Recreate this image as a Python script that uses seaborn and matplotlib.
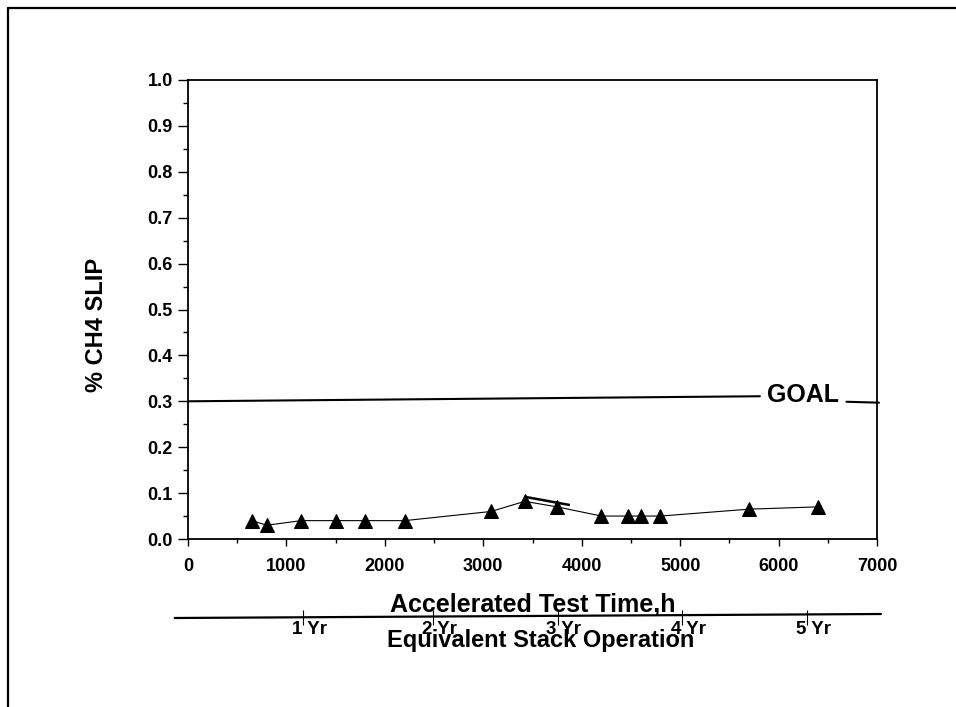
import matplotlib
matplotlib.use("Agg")
import matplotlib.pyplot as plt
from matplotlib.lines import Line2D
from matplotlib.ticker import MultipleLocator
import seaborn as sns
import pandas as pd

# ---- data ----
test_time_h = [650, 800, 1150, 1500, 1800, 2200, 3080, 3420, 3750, 4200, 4470, 4600, 4800, 5700, 6400]
ch4_slip_pct = [0.04, 0.03, 0.04, 0.04, 0.04, 0.04, 0.06, 0.082, 0.07, 0.05, 0.05, 0.05, 0.05, 0.065, 0.07]
peak_seg_x = [3420, 3880]
peak_seg_y = [0.092, 0.074]

goal_x = [0, 5810]
goal_y = [0.300, 0.311]
goal_tail_x = [6690, 7020]
goal_tail_y = [0.299, 0.297]
goal_label = "GOAL"

year_hours = [1170, 2490, 3755, 5020, 6290]
year_labels = ["1 Yr", "2 Yr", "3 Yr", "4 Yr", "5 Yr"]

x_ticks = [0, 1000, 2000, 3000, 4000, 5000, 6000, 7000]
y_ticks = [0.0, 0.1, 0.2, 0.3, 0.4, 0.5, 0.6, 0.7, 0.8, 0.9, 1.0]

df = pd.DataFrame({"time": test_time_h, "slip": ch4_slip_pct})

sns.set_theme(style="white")
plt.rcParams["font.family"] = ["Liberation Sans", "DejaVu Sans"]
plt.rcParams["font.weight"] = "bold"
plt.rcParams["text.color"] = "black"
plt.rcParams["axes.labelcolor"] = "black"
plt.rcParams["xtick.color"] = "black"
plt.rcParams["ytick.color"] = "black"

W, H = 956, 707
fig = plt.figure(figsize=(W / 100, H / 100), dpi=100)
fig.patch.set_facecolor("white")

# outer frame (left and top edges visible)
fig.add_artist(Line2D([8 / W, 8 / W], [1 - 8 / H, 0], color="black", lw=1.6))
fig.add_artist(Line2D([8 / W, 1], [1 - 8 / H, 1 - 8 / H], color="black", lw=1.6))

ax_l, ax_r, ax_t, ax_b = 188, 877, 80, 539
ax = fig.add_axes([ax_l / W, 1 - ax_b / H, (ax_r - ax_l) / W, (ax_b - ax_t) / H])
ax.set_facecolor("white")

sns.lineplot(data=df, x="time", y="slip", ax=ax, color="black", lw=0.8,
             marker="^", markersize=10, markeredgecolor="black",
             markerfacecolor="black", sort=False, legend=False)
ax.plot(peak_seg_x, peak_seg_y, color="black", lw=1.8, solid_capstyle="butt")

# goal line
ax.plot(goal_x, goal_y, color="black", lw=1.5)
ax.plot(goal_tail_x, goal_tail_y, color="black", lw=1.5, clip_on=False)
ax.text(5880, 0.2985, goal_label, fontsize=18, fontweight="bold",
        ha="left", va="baseline", color="black")

ax.set_xlim(0, 7000)
ax.set_ylim(0, 1.0)
ax.set_xticks(x_ticks)
ax.set_yticks(y_ticks)
ax.set_xticklabels([str(v) for v in x_ticks])
ax.set_yticklabels([f"{v:.1f}" for v in y_ticks])
ax.xaxis.set_minor_locator(MultipleLocator(500))
ax.yaxis.set_minor_locator(MultipleLocator(0.05))
ax.tick_params(axis="y", which="major", direction="out", length=7.2, width=1.0,
               pad=3.6, labelsize=13, color="black", labelcolor="black", left=True)
ax.tick_params(axis="y", which="minor", direction="out", length=3.6, width=1.0,
               color="black", left=True)
ax.tick_params(axis="x", which="major", direction="out", length=5, width=1.0,
               pad=8.5, labelsize=13, color="black", labelcolor="black", bottom=True)
ax.tick_params(axis="x", which="minor", direction="out", length=3, width=1.0,
               color="black", bottom=True)
for lab in ax.get_xticklabels() + ax.get_yticklabels():
    lab.set_fontweight("bold")
for s in ax.spines.values():
    s.set_color("black")
    s.set_linewidth(1.3)
ax.set_xlabel("")
ax.set_ylabel("")
ax.text(-0.1335, 0.466, "% CH4 SLIP", transform=ax.transAxes, rotation=90,
        ha="center", va="center", fontsize=17, fontweight="bold", color="black")

# secondary (equivalent years) scale drawn under the main axis
ax2 = fig.add_axes([ax_l / W, 1 - 670 / H, (ax_r - ax_l) / W, 90 / H])
ax2.set_xlim(0, 7000)
ax2.set_ylim(670, 580)
ax2.axis("off")
ax2.plot([-135, 7040], [618, 614], color="black", lw=1.6, clip_on=False)
ax2.vlines(year_hours, 610, 625, color="black", lw=0.8)
for h, lab in zip(year_hours, year_labels):
    ax2.annotate(lab, (h, 634), xytext=(-8, 0), textcoords="offset points",
                 ha="left", va="baseline", fontsize=13.5, fontweight="bold",
                 color="black", annotation_clip=False)
ax2.text(3505, 612, "Accelerated Test Time,h", ha="center", va="baseline",
         fontsize=18, fontweight="bold", color="black")
ax2.text(3586, 646.5, "Equivalent Stack Operation", ha="center", va="baseline",
         fontsize=17, fontweight="bold", color="black")

fig.savefig("out.png", dpi=100, facecolor="white")
